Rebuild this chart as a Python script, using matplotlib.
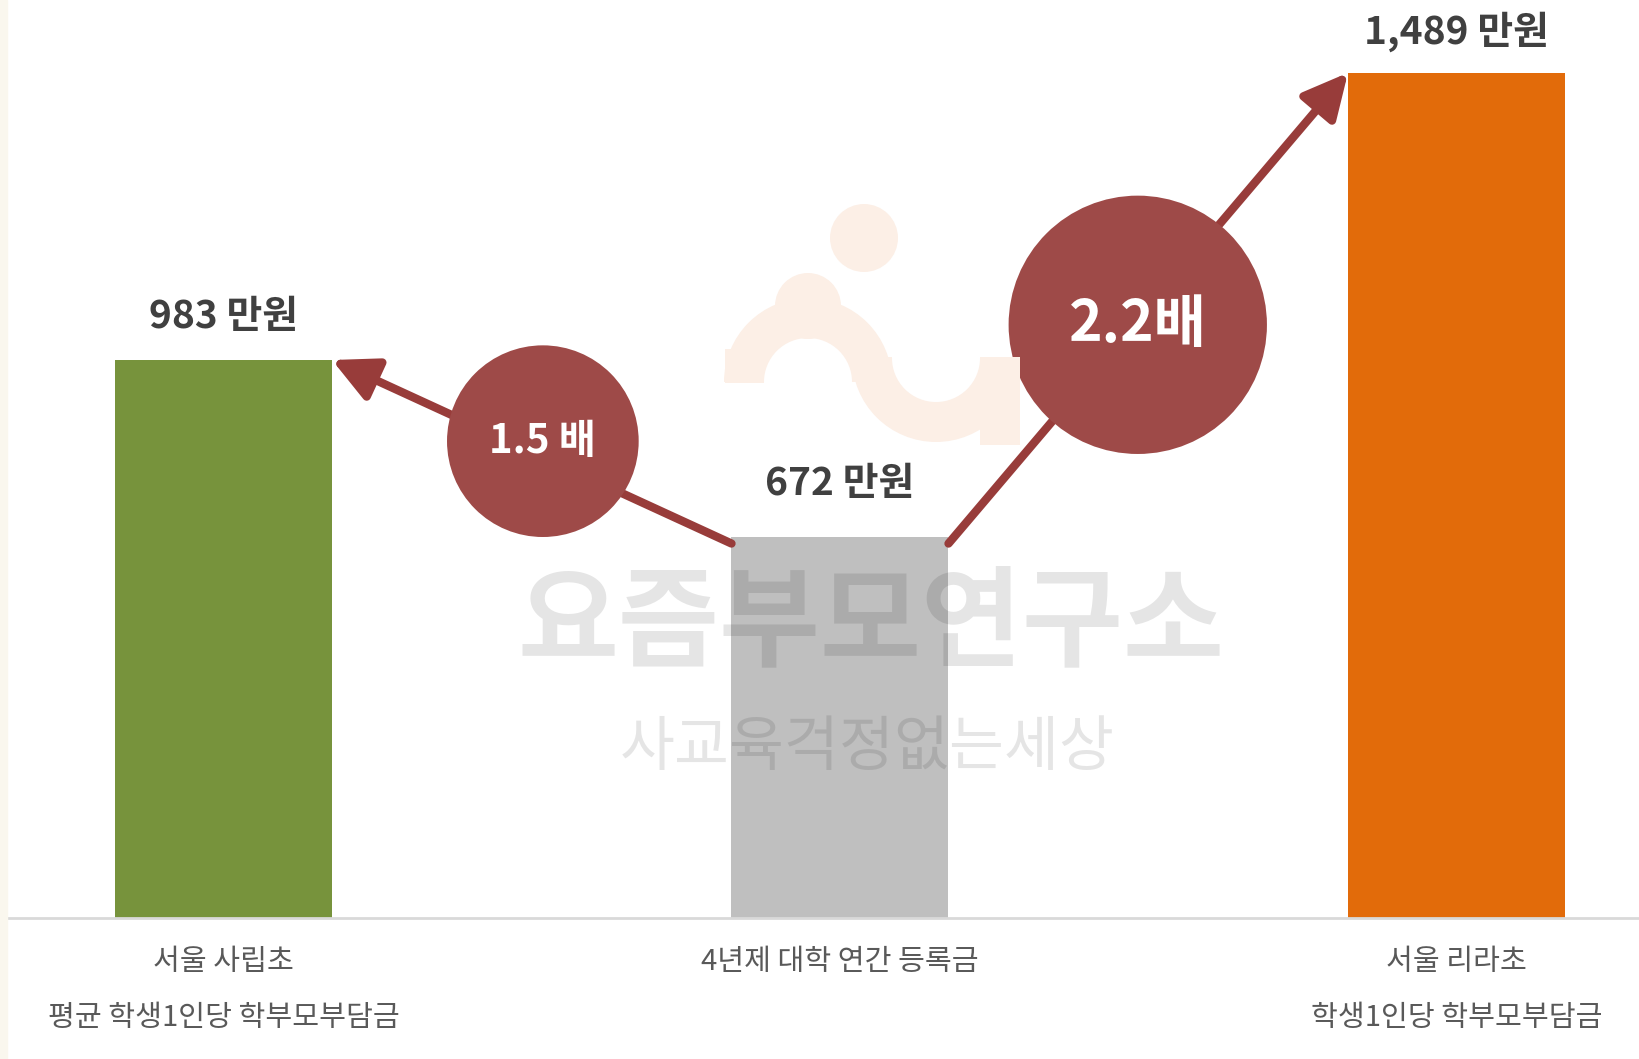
import matplotlib
matplotlib.use("Agg")
import matplotlib.pyplot as plt
from matplotlib.patches import Rectangle, Circle, Wedge
from matplotlib.transforms import Affine2D

plt.rcParams['font.family'] = ['Noto Sans CJK KR', 'DejaVu Sans']

# ---- data ----
cat_line1 = ["서울 사립초", "4년제 대학 연간 등록금", "서울 리라초"]
cat_line2 = ["평균 학생1인당 학부모부담금", "", "학생1인당 학부모부담금"]
values = [983, 672, 1489]
value_labels = ["983 만원", "672 만원", "1,489 만원"]
ratio_labels = ["1.5 배", "2.2배"]
bar_colors = ["#77933c", "#bfbfbf", "#e26b0a"]

# ---- style / layout ----
W, H = 1640, 1059
fig = plt.figure(figsize=(W / 100, H / 100), dpi=100)
fig.patch.set_facecolor("white")

base_px = 918
ax = fig.add_axes([0, (H - base_px) / H, 1, base_px / H])
ax.set_axis_off()
unit_px = 616.5
x0_px = 223.5
ax.set_xlim(-x0_px / unit_px, (W - x0_px) / unit_px)
px_per_val = 558 / 983
ax.set_ylim(0, base_px / px_per_val)

bar_w = 217 / unit_px
xs = list(range(len(values)))
ax.bar(xs, values, width=bar_w, color=bar_colors, zorder=2)

# baseline
ax.axhline(0, xmin=8 / W, xmax=1, color="#d9d9d9", lw=2, zorder=3, clip_on=False)

# left cream strip
fig.patches.append(Rectangle((0, 0), 7 / W, 1, transform=fig.transFigure,
                             color="#faf7ee", zorder=0))

# logo (pale) in pixel coordinates
pix = Affine2D().scale(1 / W, -1 / H).translate(0, 1) + fig.transFigure
logo_c = "#fcefe6"
logo_parts = [
    Circle((808, 306), 33),
    Circle((864, 238), 34),
    Wedge((808, 382), 84, 180, 360, width=40),
    Rectangle((725, 349), 39, 34),
    Wedge((936, 358), 84, 0, 180, width=40),
    Rectangle((852, 357), 40, 13),
    Rectangle((980, 357), 40, 88),
]
for p in logo_parts:
    p.set_transform(pix)
    p.set_facecolor(logo_c)
    p.set_edgecolor("none")
    p.set_zorder(1)
    fig.add_artist(p)

# arrows
arrow_c = "#983c3a"
drop = 7 / px_per_val
ax.annotate("", xy=(xs[0] + bar_w / 2, values[0]),
            xytext=(xs[1] - bar_w / 2, values[1] - drop),
            arrowprops=dict(arrowstyle="-|>,head_length=0.9,head_width=0.45",
                            lw=6, color=arrow_c, shrinkA=0, shrinkB=0,
                            mutation_scale=30), zorder=4)
ax.annotate("", xy=(xs[2] - bar_w / 2, values[2]),
            xytext=(xs[1] + bar_w / 2, values[1] - drop),
            arrowprops=dict(arrowstyle="-|>,head_length=0.9,head_width=0.45",
                            lw=6, color=arrow_c, shrinkA=0, shrinkB=0,
                            mutation_scale=30), zorder=4)

# ratio bubbles
bub_c = "#9e4a48"
bub_x = [0.518, 1.483]
bub_y = [840, 1045]
bub_d_pt = [138, 186]
ax.scatter(bub_x, bub_y, s=[d ** 2 for d in bub_d_pt], color=bub_c,
           linewidths=0, zorder=5, clip_on=False)
for x, y, t, fs in zip(bub_x, bub_y, ratio_labels, [29, 41]):
    ax.text(x, y, t, color="white", fontsize=fs, fontweight="bold",
            ha="center", va="center", zorder=6)

# value labels
label_offsets_pt = [31, 38, 29.5]
for x, v, t, off in zip(xs, values, value_labels, label_offsets_pt):
    ax.annotate(t, xy=(x, v), xytext=(0, off), textcoords="offset points",
                ha="center", va="center", fontsize=28, fontweight="bold",
                color="#404040", zorder=6)

# category labels
for x, l1, l2 in zip(xs, cat_line1, cat_line2):
    ax.annotate(l1, xy=(x, 0), xytext=(0, -44 * 0.72), textcoords="offset points",
                ha="center", va="center", fontsize=21, color="#595959",
                annotation_clip=False)
    if l2:
        ax.annotate(l2, xy=(x, 0), xytext=(0, -100 * 0.72), textcoords="offset points",
                    ha="center", va="center", fontsize=21, color="#595959",
                    annotation_clip=False)

# watermark
fig.text(871 / W, 1 - 626 / H, "요즘부모연구소", fontsize=79, fontweight="bold",
         color="black", alpha=0.1, ha="center", va="center", zorder=7)
fig.text(867 / W, 1 - 748 / H, "사교육걱정없는세상", fontsize=43, fontweight="light",
         color="black", alpha=0.1, ha="center", va="center", zorder=7)

fig.savefig("out.png", dpi=100)
